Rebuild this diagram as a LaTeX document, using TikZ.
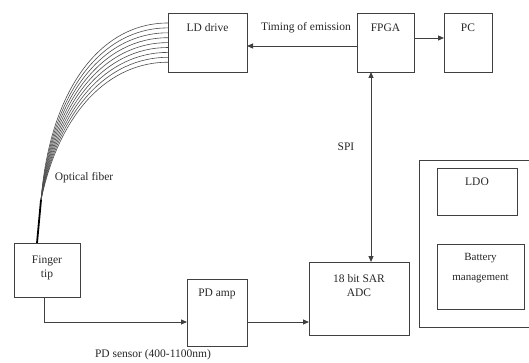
\documentclass[tikz,border=0pt]{standalone}
\usepackage{fontspec}
\setmainfont{Liberation Serif}
\usetikzlibrary{arrows.meta}
\begin{document}
\begin{tikzpicture}[x=1pt,y=-1pt,
  box/.style={draw=black!75, line width=0.9pt, inner sep=0pt, outer sep=0pt},
  lbl/.style={font=\fontsize{11.5}{14}\selectfont, text=black!85, align=center, inner sep=0pt},
  conn/.style={draw=black!75, line width=0.9pt},
  arr/.style={conn, -{Triangle[length=6pt,width=5pt]}},
  fib/.style={draw=black!70, line width=0.6pt}]
\useasboundingbox (0,0) rectangle (529,363);
% boxes
\node[box, minimum width=79pt, minimum height=59pt] (ld) at (207.5,42.5) {};
\node[box, minimum width=57pt, minimum height=59pt] (fpga) at (385.5,42.5) {};
\node[box, minimum width=48pt, minimum height=59pt] (pc) at (468,42.5) {};
\node[box, minimum width=100pt, minimum height=73pt] (adc) at (359,298.5) {};
\node[box, minimum width=66pt, minimum height=54pt] (finger) at (47,270) {};
\node[box, minimum width=60pt, minimum height=67pt] (pdamp) at (217,312.5) {};
\node[box, minimum width=80pt, minimum height=47pt] (ldo) at (477,191.5) {};
\node[box, minimum width=87pt, minimum height=65pt] (bat) at (480.5,276.5) {};
\coordinate (pwtop) at (529,160);
\coordinate (pwbot) at (529,327);
\draw[conn] (pwtop) -| (419,327) -- (pwbot);
% texts
\node[lbl] (tld) at (207.5,28) {LD drive};
\node[lbl] (tfpga) at (385.5,28) {FPGA};
\node[lbl] (tpc) at (468,28) {PC};
\node[lbl] (tadc) at (359,286) {18 bit SAR\\ADC};
\node[lbl] (tfinger) at (47,268) {Finger\\tip};
\node[lbl] (tpd) at (217,294) {PD amp};
\node[lbl] (tldo) at (477,182) {LDO};
\node[lbl, font=\fontsize{11}{20}\selectfont] (tbat) at (480.5,268) {Battery\\management};
\node[lbl] (ttim) at (306,28) {Timing of emission};
\node[lbl] (tspi) at (346,147) {SPI};
\node[lbl] (topt) at (84,178) {Optical fiber};
\node[lbl] (tpds) at (153,355) {PD sensor (400-1100nm)};
% connectors
\draw[arr] (fpga.west |- 0,46) -- (ld.east |- 0,46);
\draw[arr] (fpga.east |- 0,38) -- (pc.west |- 0,38);
\draw[conn, {Triangle[length=6pt,width=5pt]}-{Triangle[length=6pt,width=5pt]}] (371,72) coordinate (spitop) -- (371,262) coordinate (spibot);
\coordinate (fbot) at (44,297);
\draw[arr] (fbot) |- (pdamp.west |- 0,322);
\draw[arr] (pdamp.east |- 0,322) -- (adc.west |- 0,322);
% optical fibers
\coordinate (fjoin) at (41,200);
\foreach \i in {0,...,8}{
  \pgfmathsetmacro{\yy}{23+\i*4.9}
  \pgfmathsetmacro{\cx}{100+\i*1.25}
  \pgfmathsetmacro{\dx}{50+\i*1.25}
  \pgfmathsetmacro{\dy}{90+\i*2.5}
  \draw[fib] (168,\yy) .. controls (\cx,\yy) and (\dx,\dy) .. (fjoin);
}
\draw[draw=black, line width=1.8pt] (fjoin) -- (finger.north -| 37,0);
\end{tikzpicture}
\end{document}
